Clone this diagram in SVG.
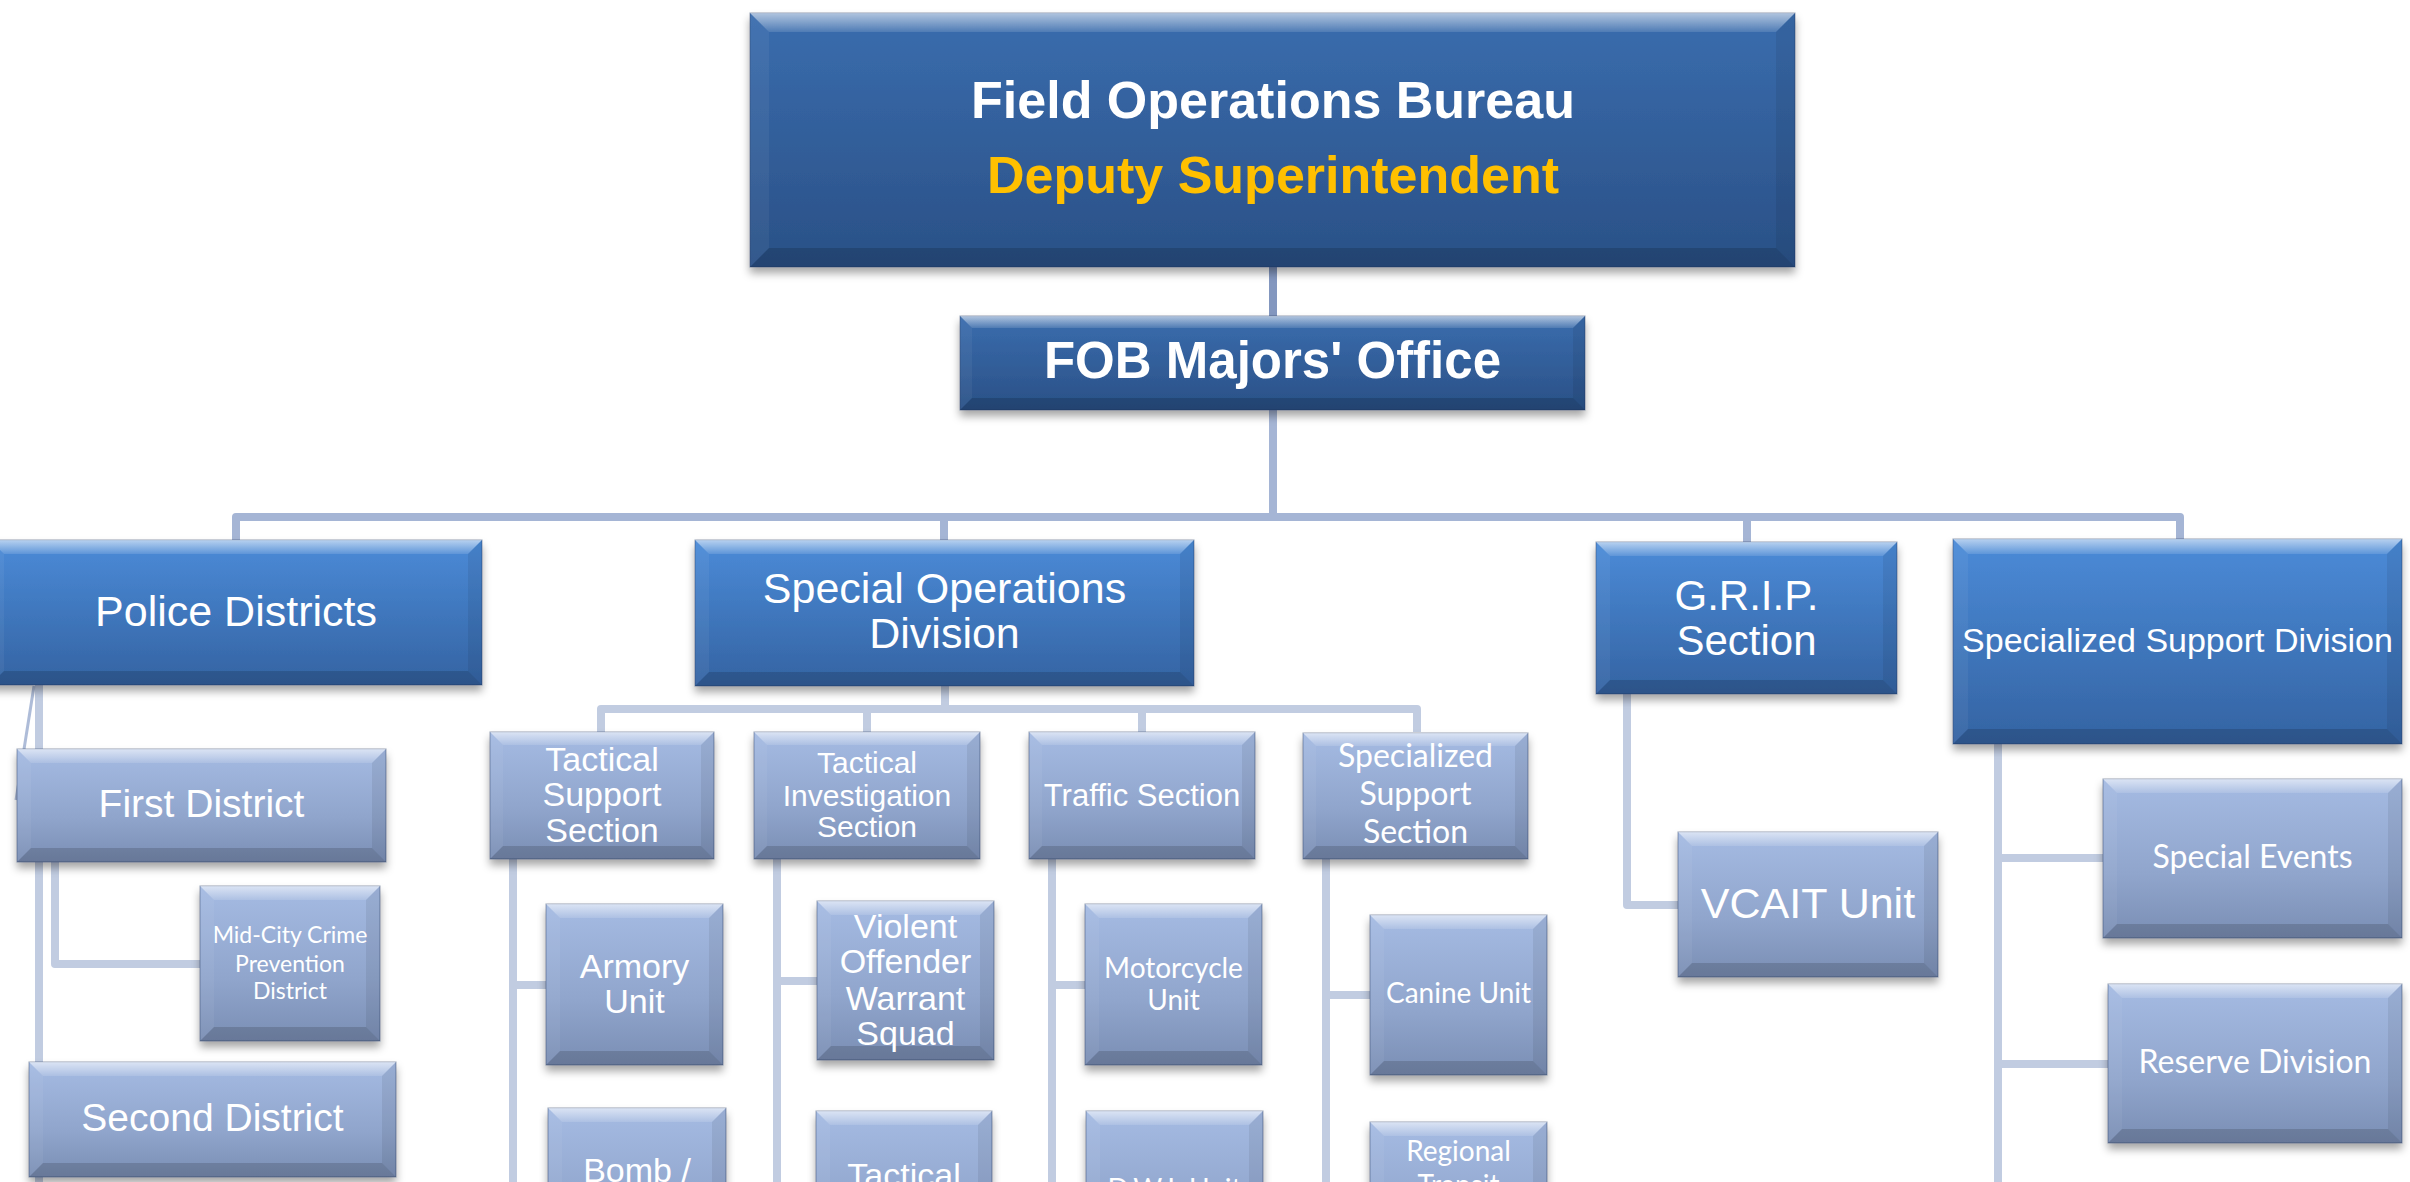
<svg xmlns="http://www.w3.org/2000/svg" width="2410" height="1182" viewBox="0 0 2410 1182">
<defs>
<linearGradient id="g1" x1="0" y1="0" x2="0" y2="1"><stop offset="0" stop-color="#3A6DAE"/><stop offset="1" stop-color="#2A5086"/></linearGradient>
<linearGradient id="g2" x1="0" y1="0" x2="0" y2="1"><stop offset="0" stop-color="#4B8BD8"/><stop offset="1" stop-color="#3463A2"/></linearGradient>
<linearGradient id="g3" x1="0" y1="0" x2="0" y2="1"><stop offset="0" stop-color="#A5BBE3"/><stop offset=".6" stop-color="#90A5CC"/><stop offset="1" stop-color="#7A8EB4"/></linearGradient>
<linearGradient id="gt" x1="0" y1="0" x2="0" y2="1"><stop offset="0" stop-color="#fff" stop-opacity=".6"/><stop offset="1" stop-color="#fff" stop-opacity=".12"/></linearGradient>
<filter id="sh" x="-5%" y="-10%" width="110%" height="140%"><feDropShadow dx="0" dy="6" stdDeviation="4" flood-color="#000" flood-opacity=".35"/></filter>
<style>
.base{filter:url(#sh);stroke:#1E3560;stroke-opacity:.45;stroke-width:1}
.l1 .base{fill:url(#g1)}
.l2 .base{fill:url(#g2)}
.l3 .base{fill:url(#g3)}
.ft{fill:url(#gt)}
.fb{fill:#000;fill-opacity:.15}
.fl{fill:#fff;fill-opacity:.05}
.fr{fill:#000;fill-opacity:.07}
text{fill:#fff;text-anchor:middle}
.a{font-family:"Liberation Sans",Arial,sans-serif}
.c{font-family:Lato,"Liberation Sans",sans-serif}
.b{font-weight:bold}
.y{fill:#FFC000}
.k0{stroke:#8397BF;stroke-width:8}
.k1{stroke:#A5B5D5;stroke-width:8}
.k2{stroke:#C1CCE1;stroke-width:8}
</style>
</defs>
<rect width="2410" height="1182" fill="#fff"/>
<g id="connectors" fill="none" stroke-linejoin="round">
<path class="k0" d="M1273 267V316"/>
<path class="k1" d="M1273 410V517M236 540V517H2180V539M944 517V540M1747 517V542"/>
<path class="k2" d="M39 685V1182"/>
<path d="M34 686L16 800" stroke="#AEBCD8" stroke-width="3"/>
<path class="k2" d="M55 862V964H200"/>
<path class="k2" d="M945 686V709M601 732V709H1417V732M867 709V732M1142 709V732"/>
<path class="k2" d="M513 859V1182M513 985H546"/>
<path class="k2" d="M777 859V1182M777 981H817"/>
<path class="k2" d="M1052 859V1182M1052 985H1085"/>
<path class="k2" d="M1326 859V1182M1326 995H1370"/>
<path class="k2" d="M1627 694V905H1678"/>
<path class="k2" d="M1998 744V1182M1998 858H2103M1998 1064H2108"/>
</g>
<g id="n-fob" class="l1" transform="translate(750,13)">
<rect class="base" width="1045" height="254"/>
<path class="ft" d="M0 0H1045l-19 19H19z"/><path class="fb" d="M0 254H1045l-19 -19H19z"/><path class="fl" d="M0 0l19 19V235L0 254z"/><path class="fr" d="M1045 0l-19 19V235L1045 254z"/>
<text class="a b" x="523" y="105" font-size="52">Field Operations Bureau</text>
<text class="a b y" x="523" y="180" font-size="52">Deputy Superintendent</text>
</g>
<g id="n-majors" class="l1" transform="translate(960,316)">
<rect class="base" width="625" height="94"/>
<path class="ft" d="M0 0H625l-12 12H12z"/><path class="fb" d="M0 94H625l-12 -12H12z"/><path class="fl" d="M0 0l12 12V82L0 94z"/><path class="fr" d="M625 0l-12 12V82L625 94z"/>
<text class="a b" x="312.5" y="62" font-size="51">FOB Majors' Office</text>
</g>
<g id="n-police" class="l2" transform="translate(-10,540)">
<rect class="base" width="492" height="145"/>
<path class="ft" d="M0 0H492l-14 14H14z"/><path class="fb" d="M0 145H492l-14 -14H14z"/><path class="fl" d="M0 0l14 14V131L0 145z"/><path class="fr" d="M492 0l-14 14V131L492 145z"/>
<text class="a" x="246" y="86" font-size="43">Police Districts</text>
</g>
<g id="n-sod" class="l2" transform="translate(695,540)">
<rect class="base" width="499" height="146"/>
<path class="ft" d="M0 0H499l-14 14H14z"/><path class="fb" d="M0 146H499l-14 -14H14z"/><path class="fl" d="M0 0l14 14V132L0 146z"/><path class="fr" d="M499 0l-14 14V132L499 146z"/>
<text class="a" x="249.5" y="63" font-size="43">Special Operations</text>
<text class="a" x="249.5" y="108" font-size="43">Division</text>
</g>
<g id="n-grip" class="l2" transform="translate(1596,542)">
<rect class="base" width="301" height="152"/>
<path class="ft" d="M0 0H301l-14 14H14z"/><path class="fb" d="M0 152H301l-14 -14H14z"/><path class="fl" d="M0 0l14 14V138L0 152z"/><path class="fr" d="M301 0l-14 14V138L301 152z"/>
<text class="a" x="150.5" y="68" font-size="42">G.R.I.P.</text>
<text class="a" x="150.5" y="113" font-size="42">Section</text>
</g>
<g id="n-ssd" class="l2" transform="translate(1953,539)">
<rect class="base" width="449" height="205"/>
<path class="ft" d="M0 0H449l-15 15H15z"/><path class="fb" d="M0 205H449l-15 -15H15z"/><path class="fl" d="M0 0l15 15V190L0 205z"/><path class="fr" d="M449 0l-15 15V190L449 205z"/>
<text class="a" x="224.5" y="113" font-size="34">Specialized Support Division</text>
</g>
<g id="n-first" class="l3" transform="translate(17,749)">
<rect class="base" width="369" height="113"/>
<path class="ft" d="M0 0H369l-14 14H14z"/><path class="fb" d="M0 113H369l-14 -14H14z"/><path class="fl" d="M0 0l14 14V99L0 113z"/><path class="fr" d="M369 0l-14 14V99L369 113z"/>
<text class="a" x="184.5" y="68" font-size="39">First District</text>
</g>
<g id="n-midcity" class="l3" transform="translate(200,886)">
<rect class="base" width="180" height="155"/>
<path class="ft" d="M0 0H180l-14 14H14z"/><path class="fb" d="M0 155H180l-14 -14H14z"/><path class="fl" d="M0 0l14 14V141L0 155z"/><path class="fr" d="M180 0l-14 14V141L180 155z"/>
<text class="c" x="90" y="57" font-size="23">Mid-City Crime</text>
<text class="c" x="90" y="86" font-size="23">Prevention</text>
<text class="c" x="90" y="113" font-size="23">District</text>
</g>
<g id="n-second" class="l3" transform="translate(29,1062)">
<rect class="base" width="367" height="115"/>
<path class="ft" d="M0 0H367l-14 14H14z"/><path class="fb" d="M0 115H367l-14 -14H14z"/><path class="fl" d="M0 0l14 14V101L0 115z"/><path class="fr" d="M367 0l-14 14V101L367 115z"/>
<text class="a" x="183.5" y="69" font-size="39">Second District</text>
</g>
<g id="n-tss" class="l3" transform="translate(490,732)">
<rect class="base" width="224" height="127"/>
<path class="ft" d="M0 0H224l-13 13H13z"/><path class="fb" d="M0 127H224l-13 -13H13z"/><path class="fl" d="M0 0l13 13V114L0 127z"/><path class="fr" d="M224 0l-13 13V114L224 127z"/>
<text class="a" x="112" y="39" font-size="34">Tactical</text>
<text class="a" x="112" y="74" font-size="34">Support</text>
<text class="a" x="112" y="110" font-size="34">Section</text>
</g>
<g id="n-tis" class="l3" transform="translate(754,732)">
<rect class="base" width="226" height="127"/>
<path class="ft" d="M0 0H226l-13 13H13z"/><path class="fb" d="M0 127H226l-13 -13H13z"/><path class="fl" d="M0 0l13 13V114L0 127z"/><path class="fr" d="M226 0l-13 13V114L226 127z"/>
<text class="a" x="113" y="41" font-size="30">Tactical</text>
<text class="a" x="113" y="74" font-size="30">Investigation</text>
<text class="a" x="113" y="105" font-size="30">Section</text>
</g>
<g id="n-traffic" class="l3" transform="translate(1029,732)">
<rect class="base" width="226" height="127"/>
<path class="ft" d="M0 0H226l-13 13H13z"/><path class="fb" d="M0 127H226l-13 -13H13z"/><path class="fl" d="M0 0l13 13V114L0 127z"/><path class="fr" d="M226 0l-13 13V114L226 127z"/>
<text class="a" x="113" y="74" font-size="31">Traffic Section</text>
</g>
<g id="n-sss" class="l3" transform="translate(1303,733)">
<rect class="base" width="225" height="126"/>
<path class="ft" d="M0 0H225l-13 13H13z"/><path class="fb" d="M0 126H225l-13 -13H13z"/><path class="fl" d="M0 0l13 13V113L0 126z"/><path class="fr" d="M225 0l-13 13V113L225 126z"/>
<text class="c" x="112.5" y="34" font-size="32">Specialized</text>
<text class="c" x="112.5" y="72" font-size="32">Support</text>
<text class="c" x="112.5" y="110" font-size="32">Section</text>
</g>
<g id="n-armory" class="l3" transform="translate(546,904)">
<rect class="base" width="177" height="161"/>
<path class="ft" d="M0 0H177l-14 14H14z"/><path class="fb" d="M0 161H177l-14 -14H14z"/><path class="fl" d="M0 0l14 14V147L0 161z"/><path class="fr" d="M177 0l-14 14V147L177 161z"/>
<text class="a" x="88.5" y="74" font-size="34">Armory</text>
<text class="a" x="88.5" y="109" font-size="34">Unit</text>
</g>
<g id="n-bomb" class="l3" transform="translate(548,1108)">
<rect class="base" width="178" height="162"/>
<path class="ft" d="M0 0H178l-14 14H14z"/><path class="fl" d="M0 0l14 14V148L0 162z"/><path class="fr" d="M178 0l-14 14V148L178 162z"/>
<text class="a" x="89" y="74" font-size="34">Bomb /</text>
</g>
<g id="n-vows" class="l3" transform="translate(817,901)">
<rect class="base" width="177" height="159"/>
<path class="ft" d="M0 0H177l-14 14H14z"/><path class="fb" d="M0 159H177l-14 -14H14z"/><path class="fl" d="M0 0l14 14V145L0 159z"/><path class="fr" d="M177 0l-14 14V145L177 159z"/>
<text class="a" x="88.5" y="37" font-size="34">Violent</text>
<text class="a" x="88.5" y="72" font-size="34">Offender</text>
<text class="a" x="88.5" y="109" font-size="34">Warrant</text>
<text class="a" x="88.5" y="144" font-size="34">Squad</text>
</g>
<g id="n-tactical2" class="l3" transform="translate(816,1111)">
<rect class="base" width="176" height="160"/>
<path class="ft" d="M0 0H176l-14 14H14z"/><path class="fl" d="M0 0l14 14V146L0 160z"/><path class="fr" d="M176 0l-14 14V146L176 160z"/>
<text class="a" x="88" y="76" font-size="34">Tactical</text>
</g>
<g id="n-motorcycle" class="l3" transform="translate(1085,904)">
<rect class="base" width="177" height="161"/>
<path class="ft" d="M0 0H177l-14 14H14z"/><path class="fb" d="M0 161H177l-14 -14H14z"/><path class="fl" d="M0 0l14 14V147L0 161z"/><path class="fr" d="M177 0l-14 14V147L177 161z"/>
<text class="c" x="88.5" y="74" font-size="28">Motorcycle</text>
<text class="c" x="88.5" y="106" font-size="28">Unit</text>
</g>
<g id="n-dwi" class="l3" transform="translate(1086,1111)">
<rect class="base" width="177" height="160"/>
<path class="ft" d="M0 0H177l-14 14H14z"/><path class="fl" d="M0 0l14 14V146L0 160z"/><path class="fr" d="M177 0l-14 14V146L177 160z"/>
<text class="c" x="88.5" y="88" font-size="28">D.W.I. Unit</text>
</g>
<g id="n-canine" class="l3" transform="translate(1370,915)">
<rect class="base" width="177" height="160"/>
<path class="ft" d="M0 0H177l-14 14H14z"/><path class="fb" d="M0 160H177l-14 -14H14z"/><path class="fl" d="M0 0l14 14V146L0 160z"/><path class="fr" d="M177 0l-14 14V146L177 160z"/>
<text class="c" x="88.5" y="88" font-size="28">Canine Unit</text>
</g>
<g id="n-regional" class="l3" transform="translate(1370,1122)">
<rect class="base" width="177" height="160"/>
<path class="ft" d="M0 0H177l-14 14H14z"/><path class="fl" d="M0 0l14 14V146L0 160z"/><path class="fr" d="M177 0l-14 14V146L177 160z"/>
<text class="c" x="88.5" y="39" font-size="28">Regional</text>
<text class="c" x="88.5" y="73" font-size="28">Transit</text>
</g>
<g id="n-vcait" class="l3" transform="translate(1678,832)">
<rect class="base" width="260" height="145"/>
<path class="ft" d="M0 0H260l-14 14H14z"/><path class="fb" d="M0 145H260l-14 -14H14z"/><path class="fl" d="M0 0l14 14V131L0 145z"/><path class="fr" d="M260 0l-14 14V131L260 145z"/>
<text class="a" x="130" y="86" font-size="43">VCAIT Unit</text>
</g>
<g id="n-events" class="l3" transform="translate(2103,779)">
<rect class="base" width="299" height="159"/>
<path class="ft" d="M0 0H299l-14 14H14z"/><path class="fb" d="M0 159H299l-14 -14H14z"/><path class="fl" d="M0 0l14 14V145L0 159z"/><path class="fr" d="M299 0l-14 14V145L299 159z"/>
<text class="c" x="149.5" y="89" font-size="32">Special Events</text>
</g>
<g id="n-reserve" class="l3" transform="translate(2108,984)">
<rect class="base" width="294" height="159"/>
<path class="ft" d="M0 0H294l-14 14H14z"/><path class="fb" d="M0 159H294l-14 -14H14z"/><path class="fl" d="M0 0l14 14V145L0 159z"/><path class="fr" d="M294 0l-14 14V145L294 159z"/>
<text class="c" x="147" y="89" font-size="32">Reserve Division</text>
</g>
</svg>
